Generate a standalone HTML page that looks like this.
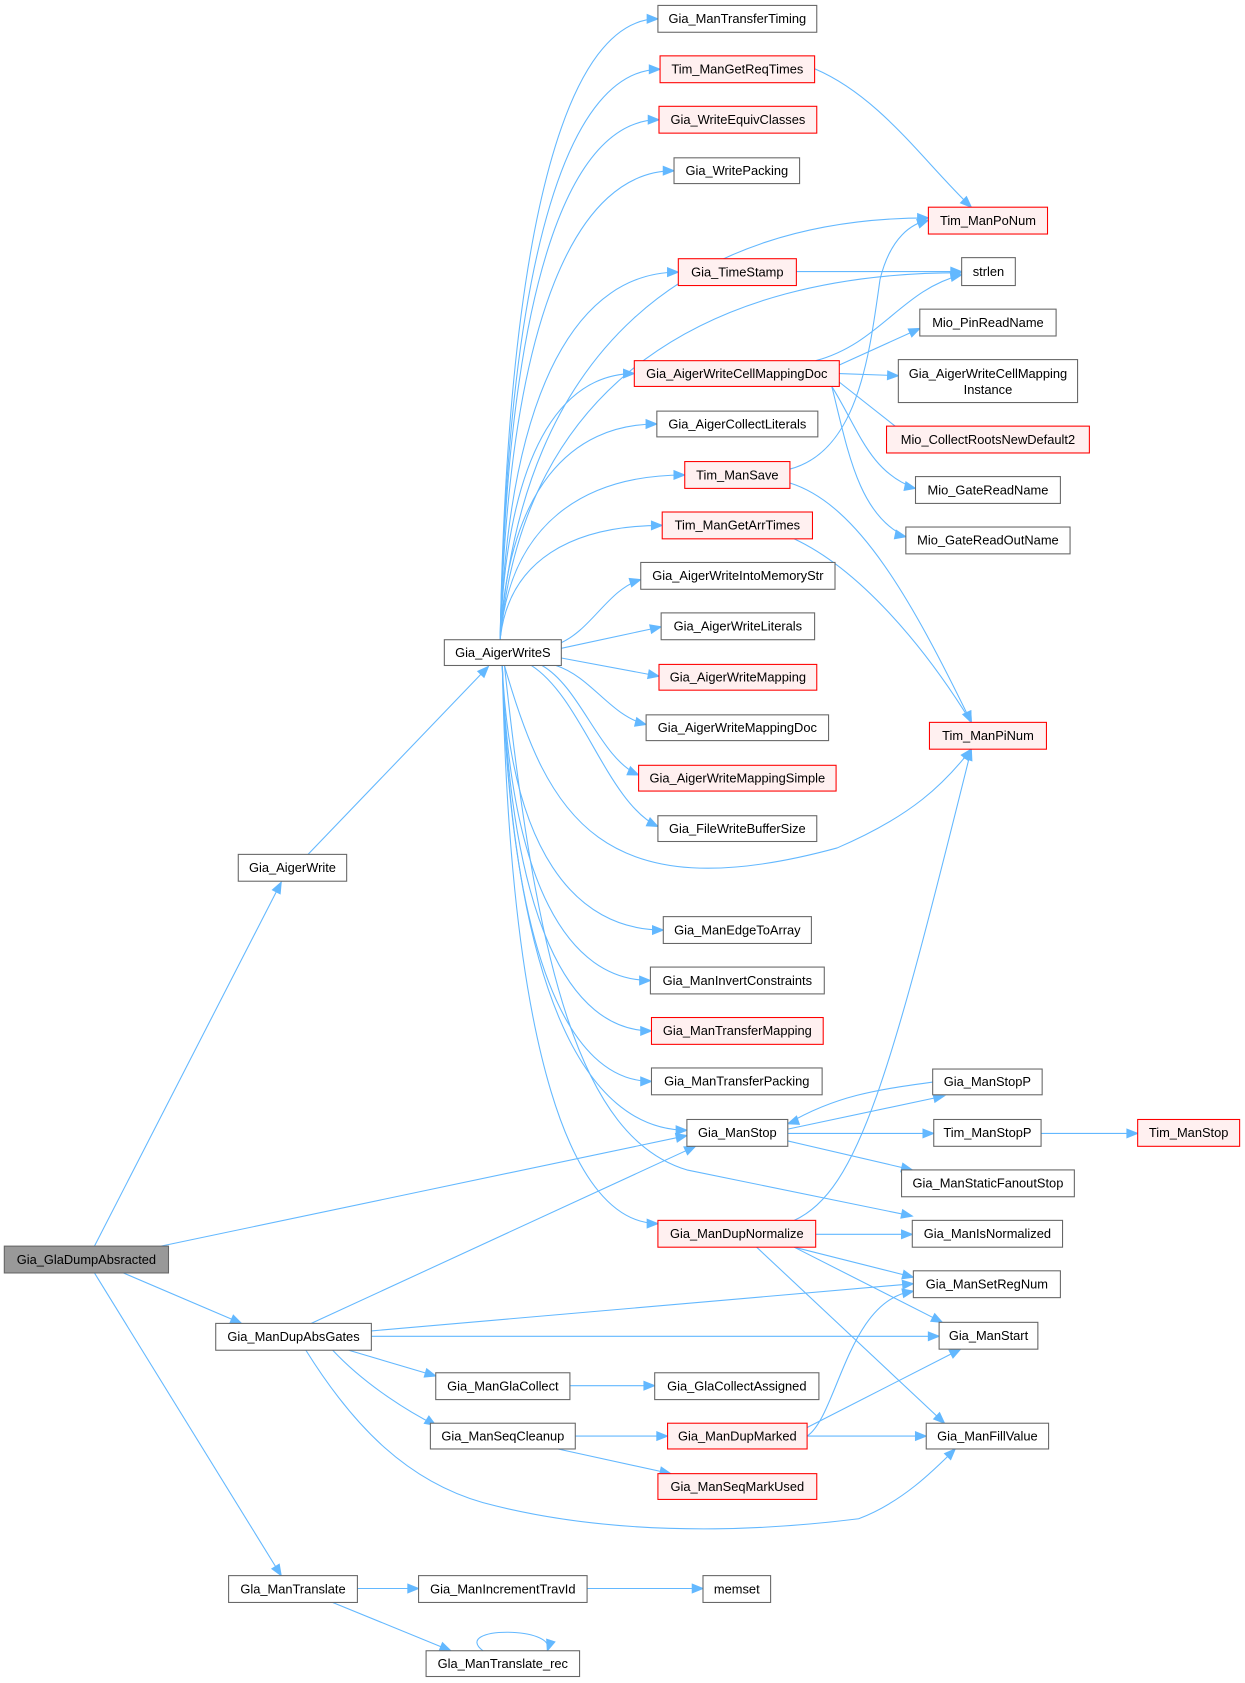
<!DOCTYPE html>
<html><head><meta charset="utf-8"><style>
html,body{margin:0;padding:0;background:#fff;}
svg{display:block}
text{font-family:"Liberation Sans",Arial,sans-serif;font-size:12px;fill:#000}
</style></head><body>
<svg id="g" width="1245" height="1683" viewBox="0 0 1160 1568" xmlns="http://www.w3.org/2000/svg"></svg>
<script>
var N={
root:[4,1161,157,1186,'Gia_GlaDumpAbsracted','g'],
aw:[222,796,323,821,'Gia_AigerWrite'],
dag:[201,1233,346,1258,'Gia_ManDupAbsGates'],
gmt:[213,1468,333,1493,'Gla_ManTranslate'],
aws:[414,596,523,620,'Gia_AigerWriteS'],
tt:[613,5,761,30,'Gia_ManTransferTiming'],
grt:[615,52,759,77,'Tim_ManGetReqTimes','r'],
wec:[614,99,761,124,'Gia_WriteEquivClasses','r'],
wp:[628,147,745,171,'Gia_WritePacking'],
ts:[632,241,742,266,'Gia_TimeStamp','r'],
cmd:[591,336,782,360,'Gia_AigerWriteCellMappingDoc','r'],
acl:[612,383,762,407,'Gia_AigerCollectLiterals'],
tsv:[638,430,736,455,'Tim_ManSave','r'],
gat:[617,477,757,502,'Tim_ManGetArrTimes','r'],
wim:[597,524,778,549,'Gia_AigerWriteIntoMemoryStr'],
wl:[616,571,759,596,'Gia_AigerWriteLiterals'],
wm:[614,619,761,643,'Gia_AigerWriteMapping','r'],
wmd:[602,666,772,690,'Gia_AigerWriteMappingDoc'],
wms:[595,713,779,737,'Gia_AigerWriteMappingSimple','r'],
fwb:[613,760,761,784,'Gia_FileWriteBufferSize'],
eta:[618,854,756,879,'Gia_ManEdgeToArray'],
ic:[606,901,768,926,'Gia_ManInvertConstraints'],
tm:[607,948,767,973,'Gia_ManTransferMapping','r'],
tp:[607,995,766,1020,'Gia_ManTransferPacking'],
ms:[640,1043,734,1068,'Gia_ManStop'],
dn:[613,1137,760,1162,'Gia_ManDupNormalize','r'],
gca:[610,1279,763,1304,'Gia_GlaCollectAssigned'],
dm:[622,1326,752,1350,'Gia_ManDupMarked','r'],
smu:[613,1373,761,1397,'Gia_ManSeqMarkUsed','r'],
mem:[655,1468,718,1493,'memset'],
gc:[406,1279,531,1304,'Gia_ManGlaCollect'],
sc:[401,1326,536,1350,'Gia_ManSeqCleanup'],
itv:[390,1468,547,1493,'Gia_ManIncrementTravId'],
tr:[397,1538,540,1562,'Gla_ManTranslate_rec'],
po:[865,193,976,218,'Tim_ManPoNum','r'],
sl:[896,240,946,266,'strlen'],
prn:[857,288,984,313,'Mio_PinReadName'],
cmi:[837,335,1004,375,'Gia_AigerWriteCellMapping|Instance'],
crn:[826,397,1015,422,'Mio_CollectRootsNewDefault2','r'],
grn:[853,444,988,469,'Mio_GateReadName'],
gro:[844,491,997,516,'Mio_GateReadOutName'],
pi:[866,673,975,698,'Tim_ManPiNum','r'],
msp:[869,996,971,1020,'Gia_ManStopP'],
tsp:[870,1043,970,1068,'Tim_ManStopP'],
sfs:[840,1090,1001,1115,'Gia_ManStaticFanoutStop'],
isn:[850,1137,990,1162,'Gia_ManIsNormalized'],
srn:[851,1184,988,1209,'Gia_ManSetRegNum'],
st:[875,1232,967,1257,'Gia_ManStart'],
fv:[863,1326,977,1350,'Gia_ManFillValue'],
tst:[1060,1043,1155,1068,'Tim_ManStop','r']
};
var C='#63b8ff',s='';
function P(d,ex,ey,cx,cy){
 s+='<path d="'+d+'" fill="none" stroke="'+C+'" stroke-width="1"/>';
 var a=Math.atan2(ey-cy,ex-cx),L=10,W=4;
 var bx=ex-L*Math.cos(a),by=ey-L*Math.sin(a);
 var px=-Math.sin(a)*W,py=Math.cos(a)*W;
 s+='<polygon points="'+ex+','+ey+' '+(bx+px)+','+(by+py)+' '+(bx-px)+','+(by-py)+'" fill="'+C+'" stroke="'+C+'"/>';
}
function E(a,b,sx,sy,tx,ty){
 var A=N[a],B=N[b];
 if(tx===undefined){tx=B[0];ty=(B[1]+B[3])/2;}
 var c1x=sx+(tx-sx)*0.05,c1y=sy+(ty-sy)*0.7,c2x=sx+(tx-sx)*0.45,c2y=ty;
 P('M'+sx+','+sy+' C'+c1x+','+c1y+' '+c2x+','+c2y+' '+tx+','+ty,tx,ty,c2x,c2y);
}
function Q(sx,sy,tx,ty){
 var c1x=sx+(tx-sx)*0.4,c1y=sy+(ty-sy)*0.2,c2x=sx+(tx-sx)*0.6,c2y=ty-(ty-sy)*0.15;
 P('M'+sx+','+sy+' C'+c1x+','+c1y+' '+c2x+','+c2y+' '+tx+','+ty,tx,ty,c2x,c2y);
}
function S(sx,sy,tx,ty){P('M'+sx+','+sy+' L'+tx+','+ty,tx,ty,sx,sy);}
// root
S(88,1161,262,822);S(150,1161,640,1058);S(115,1186,225,1233);S(88,1186,262,1468);
S(287,796,455,621);
// aws fan
['tt','grt','wec','wp','ts','cmd','acl','tsv','gat'].forEach(function(k){E('aws',k,466,596);});
E('aws','po',466,596,865,203);
E('aws','sl',466,596,896,254);
Q(520,600,597,540);S(523,604,616,584);S(523,613,614,630);
Q(518,620,602,675);Q(505,620,595,722);Q(495,620,613,770);
['eta','ic','tm','tp'].forEach(function(k){E('aws',k,468,620);});
E('aws','ms',468,620,640,1053);
E('aws','dn',468,620,613,1140);
P('M470,620 C510,760 560,850 780,790 C850,760 880,730 905,698',905,698,880,730);
P('M470,620 C500,900 540,1060 640,1090 L850,1133',850,1133,640,1090);
// second level
P('M759,64 C820,90 860,150 905,193',905,193,870,160);
S(742,253,896,253);
P('M760,336 C820,320 840,270 896,256',896,256,850,265);
S(782,340,857,306);S(782,348,837,350);S(782,356,848,408);
P('M775,360 C800,400 810,440 853,455',853,455,830,450);
P('M775,360 C790,420 800,480 844,500',844,500,820,495);
P('M736,437 C800,420 810,330 820,260 C830,220 850,208 865,205',865,205,845,212);
P('M736,450 C800,470 850,560 905,673',905,673,890,640);
P('M740,502 C800,530 860,600 905,673',905,673,890,640);
S(734,1052,880,1021);P('M870,1008 C820,1015 780,1020 734,1047',734,1047,760,1038);
S(734,1056,870,1056);S(734,1063,850,1090);S(970,1056,1060,1056);
P('M740,1137 C800,1110 830,1000 905,698',905,698,880,770);
S(760,1150,850,1150);S(740,1162,851,1190);S(740,1162,878,1232);S(705,1162,880,1326);
// dag
S(290,1233,648,1068);S(346,1240,851,1196);S(346,1245,875,1245);S(325,1258,406,1282);
P('M310,1258 C340,1290 380,1315 406,1328',406,1328,385,1315);
P('M285,1258 C330,1330 380,1380 450,1400 C600,1440 760,1420 800,1415 C840,1400 870,1370 890,1350',890,1350,870,1370);
S(531,1291,610,1291);S(536,1338,622,1338);S(520,1350,625,1373);
P('M752,1338 C780,1320 790,1210 851,1203',851,1203,830,1207);S(752,1330,895,1257);S(752,1338,863,1338);
S(333,1480,390,1480);S(547,1480,655,1480);S(310,1493,420,1538);
P('M450,1538 C420,1515 520,1515 510,1538',510,1538,516,1520);
// nodes
for(var k in N){var n=N[k],f='#fff',st='#666';
 if(n[5]=='r'){f='#fff0f0';st='#f00';} if(n[5]=='g'){f='#999';st='#666';}
 s+='<rect x="'+n[0]+'" y="'+n[1]+'" width="'+(n[2]-n[0])+'" height="'+(n[3]-n[1])+'" fill="'+f+'" stroke="'+st+'"/>';
 var t=n[4].split('|'),cx=(n[0]+n[2])/2,cy=(n[1]+n[3])/2;
 if(t.length==1)s+='<text x="'+cx+'" y="'+(cy+4)+'" text-anchor="middle">'+t[0]+'</text>';
 else{s+='<text x="'+cx+'" y="'+(cy-3)+'" text-anchor="middle">'+t[0]+'</text><text x="'+cx+'" y="'+(cy+12)+'" text-anchor="middle">'+t[1]+'</text>';}
}
document.getElementById('g').innerHTML=s;
</script>
</body></html>
